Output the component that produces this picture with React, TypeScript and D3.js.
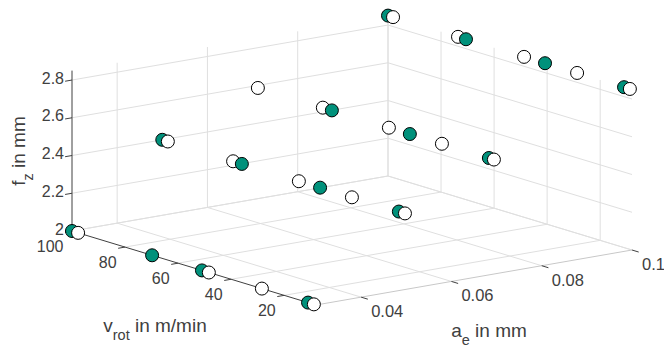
import React from "react";
import * as d3 from "d3";

const W = 664;
const H = 349;

// rows of the design: each row has one a_e and one f_z, v_rot varies
const rowAe = [0.03, 0.05, 0.07, 0.1];
const rowFz = [2.0, 2.4, 2.6, 2.85];
const whiteV = [
  [97.7, 48.4, 28.4, 8.8],
  [97.9, 73.3, 48.5, 28.5, 8.5],
  [98.0, 73.5, 48.6, 28.6, 9.0],
  [98.1, 73.6, 48.7, 28.7, 8.8],
];
const greenV = [
  [100, 69.8, 51, 11],
  [100, 70, 40.5, 10.8],
  [70.1, 40.7, 10.9],
  [100, 70.6, 40.8, 11],
];

const vTicks = [20, 40, 60, 80, 100];
const aTicks = [0.04, 0.06, 0.08, 0.1];
const zTicks = [2, 2.2, 2.4, 2.6, 2.8];
const vLabels = ["20", "40", "60", "80", "100"];
const aLabels = ["0.04", "0.06", "0.08", "0.1"];
const zLabels = ["2", "2.2", "2.4", "2.6", "2.8"];

const vDom = [100, 8];
const aDom = [0.03, 0.1];
const zDom = [2, 2.85];

const TEAL = "#00917b";
const GRID = "#dfdfdf";
const AXIS = "#404040";
const FONT = "'Liberation Sans', Arial, Helvetica, sans-serif";

// projection basis (screen vectors of each full axis span)
const origin = [72, 231];
const ev = [244, 74];
const ea = [316, -55];
const ez = [0, -160.4];

const sv = d3.scaleLinear().domain(vDom).range([0, 1]);
const sa = d3.scaleLinear().domain(aDom).range([0, 1]);
const sz = d3.scaleLinear().domain(zDom).range([0, 1]);

const proj = (v: number, a: number, z: number): [number, number] => [
  origin[0] + sv(v) * ev[0] + sa(a) * ea[0] + sz(z) * ez[0],
  origin[1] + sv(v) * ev[1] + sa(a) * ea[1] + sz(z) * ez[1],
];

const norm = (p: number[]) => {
  const l = Math.hypot(p[0], p[1]);
  return [p[0] / l, p[1] / l];
};

type Seg = [[number, number], [number, number]];

export default function App() {
  const [vmax, vmin] = vDom;
  const [amin, amax] = aDom;
  const [zmin, zmax] = zDom;

  const grid: Seg[] = [];
  // floor
  aTicks.forEach((a) => grid.push([proj(vmax, a, zmin), proj(vmin, a, zmin)]));
  vTicks.forEach((v) => grid.push([proj(v, amin, zmin), proj(v, amax, zmin)]));
  // back-left wall (v = vmax)
  aTicks.forEach((a) => grid.push([proj(vmax, a, zmin), proj(vmax, a, zmax)]));
  zTicks.forEach((z) => grid.push([proj(vmax, amin, z), proj(vmax, amax, z)]));
  // back-right wall (a = amax)
  vTicks.forEach((v) => grid.push([proj(v, amax, zmin), proj(v, amax, zmax)]));
  zTicks.forEach((z) => grid.push([proj(vmax, amax, z), proj(vmin, amax, z)]));

  const pts: { v: number; a: number; z: number; fill: string }[] = [];
  rowAe.forEach((a, i) => {
    greenV[i].forEach((v) => pts.push({ v, a, z: rowFz[i], fill: TEAL }));
    whiteV[i].forEach((v) => pts.push({ v, a, z: rowFz[i], fill: "#ffffff" }));
  });
  // far points first
  pts.sort((p, q) => sv(p.v) - sa(p.a) - (sv(q.v) - sa(q.a)));

  const tA = norm([-ea[0], -ea[1]]); // tick direction for v and z axes
  const tV = norm(ev); // tick direction for a axis
  const TL = 7;

  return (
    <svg
      width={W}
      height={H}
      style={{ position: "absolute", left: 0, top: 0, background: "#fff" }}
      fontFamily={FONT}
    >
      {grid.map((s, i) => (
        <line
          key={"g" + i}
          x1={s[0][0]}
          y1={s[0][1]}
          x2={s[1][0]}
          y2={s[1][1]}
          stroke={GRID}
          strokeWidth={1}
        />
      ))}

      {/* a axis (front right) */}
      <line
        x1={proj(vmin, amin, zmin)[0]}
        y1={proj(vmin, amin, zmin)[1]}
        x2={proj(vmin, amax, zmin)[0]}
        y2={proj(vmin, amax, zmin)[1]}
        stroke="#c8c8c8"
      />
      {/* v axis (front left) */}
      <line
        x1={proj(vmax, amin, zmin)[0]}
        y1={proj(vmax, amin, zmin)[1]}
        x2={proj(vmin, amin, zmin)[0]}
        y2={proj(vmin, amin, zmin)[1]}
        stroke={AXIS}
      />
      {/* z axis */}
      <line
        x1={proj(vmax, amin, zmin)[0]}
        y1={proj(vmax, amin, zmin)[1]}
        x2={proj(vmax, amin, zmax)[0]}
        y2={proj(vmax, amin, zmax)[1]}
        stroke={AXIS}
      />

      {/* ticks and labels */}
      {zTicks.map((z, i) => {
        const [x, y] = proj(vmax, amin, z);
        return (
          <g key={"z" + i}>
            <line x1={x} y1={y} x2={x + tA[0] * TL} y2={y + tA[1] * TL} stroke={AXIS} />
            <text x={64} y={y - 2} textAnchor="end" dominantBaseline="central" fontSize={16} fill={AXIS}>
              {zLabels[i]}
            </text>
          </g>
        );
      })}
      {vTicks.map((v, i) => {
        const [x, y] = proj(v, amin, zmin);
        return (
          <g key={"v" + i}>
            <line x1={x} y1={y} x2={x + tA[0] * TL} y2={y + tA[1] * TL} stroke={AXIS} />
            <text x={x - 8.5} y={y + 15} textAnchor="end" dominantBaseline="central" fontSize={16} fill={AXIS}>
              {vLabels[i]}
            </text>
          </g>
        );
      })}
      {aTicks.map((a, i) => {
        const [x, y] = proj(vmin, a, zmin);
        return (
          <g key={"a" + i}>
            <line x1={x} y1={y} x2={x + tV[0] * TL} y2={y + tV[1] * TL} stroke={AXIS} />
            <text x={x + 10} y={y + 14} textAnchor="start" dominantBaseline="central" fontSize={16.5} fill={AXIS}>
              {aLabels[i]}
            </text>
          </g>
        );
      })}

      {/* axis labels */}
      <text x={155} y={332} textAnchor="middle" fontSize={19} fill={AXIS}>
        v<tspan fontSize={14.5} dy={8}>rot</tspan>
        <tspan dy={-8}> in m/min</tspan>
      </text>
      <text x={489} y={337} textAnchor="middle" fontSize={19} fill={AXIS}>
        a<tspan fontSize={14.5} dy={8}>e</tspan>
        <tspan dy={-8}> in mm</tspan>
      </text>
      <text transform="translate(25,151) rotate(-90)" textAnchor="middle" fontSize={19} fill={AXIS}>
        f<tspan fontSize={14.5} dy={8}>z</tspan>
        <tspan dy={-8}> in mm</tspan>
      </text>

      {/* markers */}
      {pts.map((p, i) => {
        const [x, y] = proj(p.v, p.a, p.z);
        return <circle key={"p" + i} cx={x} cy={y} r={6.5} fill={p.fill} stroke="#000" strokeWidth={1} />;
      })}
    </svg>
  );
}
